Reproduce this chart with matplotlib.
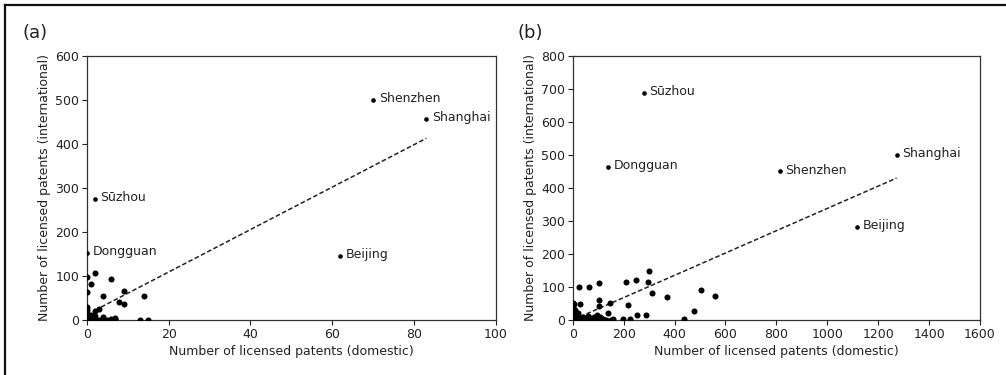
#
# plot.py
#
# Licensed patents per city: international vs domestic, two panels (a) and (b)
# with the fitted trend line and the five largest cities labelled.
#

import matplotlib.pyplot as plt
from matplotlib.lines import Line2D

#
# Panel (a) data
#
dom_a = [2, 1, 0, 0, 6, 4, 9, 8, 9, 14, 2, 3, 0, 0, 0, 0, 0, 0, 1, 1, 1,
         2, 2, 3, 4, 4, 5, 6, 7, 7, 13, 15, 0, 0.5]
int_a = [107, 82, 98, 63, 93, 54, 66, 41, 37, 55, 20, 24, 30, 22, 15, 10, 5,
         2, 12, 3, 0, 8, 2, 1, 6, 1, 0, 2, 5, 3, 1, 1, 0, 1]
city_a = ['Shenzhen', 'Shanghai', 'S\u016bzhou', 'Dongguan', 'Beijing']
city_dom_a = [70, 83, 2, 0, 62]
city_int_a = [500, 457, 275, 152, 146]
fit_x_a = [2, 83]
fit_y_a = [22, 413]

#
# Panel (b) data
#
dom_b = [23, 65, 105, 105, 105, 145, 140, 209, 250, 298, 296, 310, 371, 217,
         251, 288, 437, 477, 504, 560, 29, 5, 160, 199, 225, 61, 94, 107, 42,
         0, 2, 3, 5, 8, 10, 0, 12, 18, 25, 30, 35, 48, 55, 70, 80, 90, 100,
         115, 130, 150, 0, 5, 15, 20, 8, 40, 60, 85, 120, 2, 4]
int_b = [101, 101, 112, 62, 42, 50, 20, 114, 121, 147, 114, 81, 70, 46,
         14, 15, 2, 27, 91, 73, 48, 48, 2, 2, 2, 13, 15, 8, 10,
         50, 40, 30, 22, 15, 8, 10, 3, 5, 2, 8, 4, 3, 6, 5, 2, 6, 3,
         2, 1, 1, 0, 3, 12, 20, 30, 1, 1, 10, 4, 15, 5]
city_b = ['S\u016bzhou', 'Dongguan', 'Shenzhen', 'Shanghai', 'Beijing']
city_dom_b = [280, 140, 814, 1274, 1117]
city_int_b = [688, 464, 450, 501, 282]
fit_x_b = [29, 1272]
fit_y_b = [10, 430]

txtc = '#222222'
plt.rcParams['font.family'] = 'DejaVu Sans'
plt.rcParams['font.size'] = 9

fig = plt.figure(figsize=(10.06, 3.75), dpi=100)

# outer frame (only top and left edges are visible in the original)
fig.add_artist(Line2D([0.005, 0.005], [0, 0.987], color='#111111', lw=1.6,
                      transform=fig.transFigure))
fig.add_artist(Line2D([0.005, 1.0], [0.987, 0.987], color='#111111', lw=1.6,
                      transform=fig.transFigure))

ax1 = fig.add_axes([0.0862, 0.1467, 0.4068, 0.704])
ax2 = fig.add_axes([0.5693, 0.1467, 0.4049, 0.704])


def draw_panel(ax, xs, ys, cx, cy, names, fx, fy):
    ax.scatter(xs, ys, s=19, color='black', zorder=3, linewidths=0)
    ax.scatter(cx, cy, s=11, color='black', zorder=3, linewidths=0)
    for name, x, y in zip(names, cx, cy):
        ax.annotate(name, (x, y), xytext=(4, 1), textcoords='offset points',
                    va='center', ha='left', fontsize=9, color=txtc)
    ax.plot(fx, fy, color='#222222', lw=1.1, ls=(0, (3, 1.6)), zorder=2)
    ax.set_xlabel('Number of licensed patents (domestic)', color=txtc,
                  labelpad=3)
    ax.set_ylabel('Number of licensed patents (international)', color=txtc,
                  labelpad=3)
    ax.tick_params(colors=txtc, length=3.5, labelsize=9, pad=2)
    for sp in ax.spines.values():
        sp.set_color('#333333')
        sp.set_linewidth(0.9)


draw_panel(ax1, dom_a, int_a, city_dom_a, city_int_a, city_a,
           fit_x_a, fit_y_a)
ax1.set_xlim(0, 100)
ax1.set_ylim(0, 600)
ax1.set_xticks(range(0, 101, 20))
ax1.set_yticks(range(0, 601, 100))

draw_panel(ax2, dom_b, int_b, city_dom_b, city_int_b, city_b,
           fit_x_b, fit_y_b)
ax2.set_xlim(0, 1600)
ax2.set_ylim(0, 800)
ax2.set_xticks(range(0, 1601, 200))
ax2.set_yticks(range(0, 801, 100))

fig.text(0.022, 0.912, '(a)', fontsize=13, color=txtc, va='center')
fig.text(0.514, 0.912, '(b)', fontsize=13, color=txtc, va='center')

fig.savefig('out.png', dpi=100)
